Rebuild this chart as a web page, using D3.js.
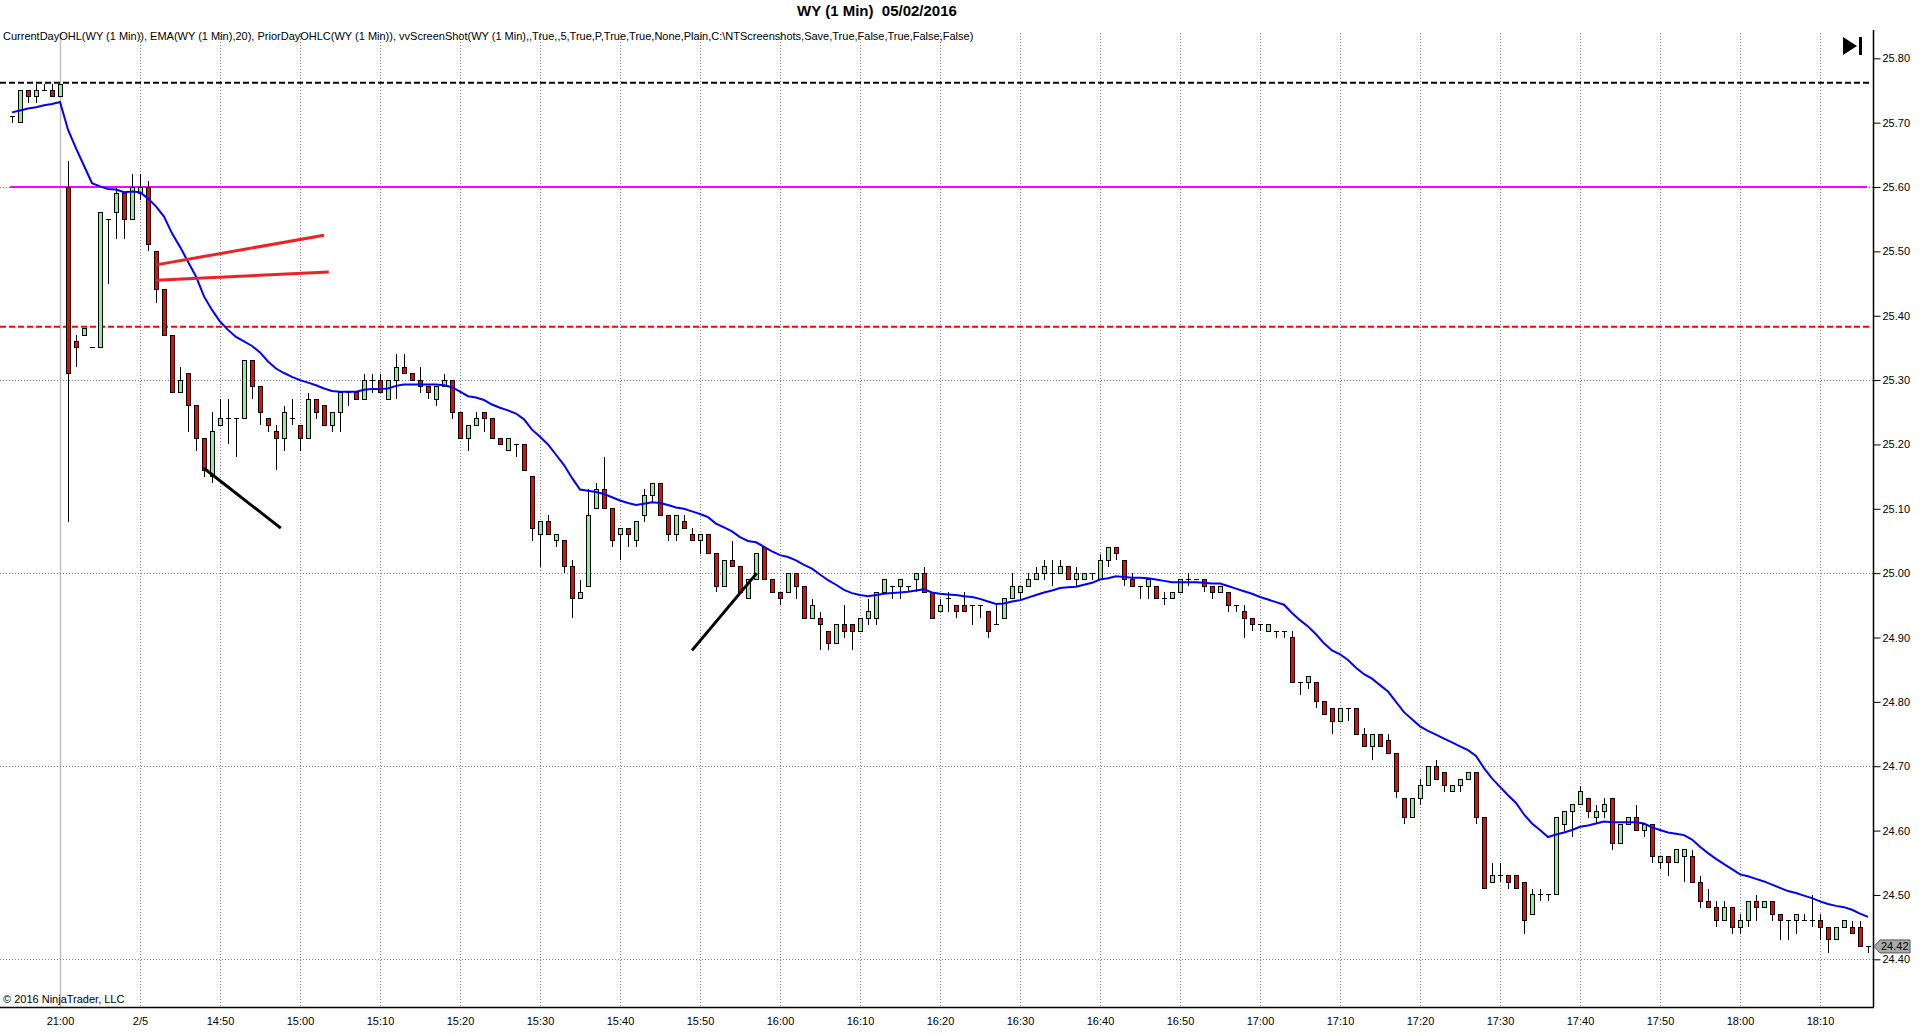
<!DOCTYPE html>
<html>
<head>
<meta charset="utf-8">
<script src="https://cdn.jsdelivr.net/npm/d3@7"></script>
<style>
  html, body { margin: 0; padding: 0; background: #fff; }
  svg { display: block; font-family: "Liberation Sans", Arial, sans-serif; }
</style>
</head>
<body>
<div id="chart"></div>
<script>
// WY 1 minute bars, index 0 = 2/4 20:54 ... index 232 = 2/5 18:16
var opens = [
  25.71,25.70,25.75,25.74,25.75,25.75,25.74,25.60,25.36,25.37,
  25.35,25.35,25.55,25.56,25.59,25.55,25.59,25.60,25.50,25.44,
  25.37,25.28,25.31,25.26,25.21,25.15,25.23,25.24,25.24,25.24,
  25.33,25.29,25.24,25.22,25.21,25.24,25.23,25.21,25.27,25.26,
  25.23,25.25,25.28,25.28,25.27,25.30,25.30,25.27,25.30,25.32,
  25.31,25.30,25.29,25.27,25.29,25.30,25.25,25.21,25.23,25.25,
  25.24,25.21,25.19,25.20,25.20,25.15,25.06,25.08,25.05,25.05,
  25.01,24.96,24.98,25.10,25.13,25.10,25.06,25.07,25.05,25.09,
  25.12,25.14,25.09,25.06,25.08,25.06,25.05,25.06,25.03,24.98,
  25.02,25.01,24.96,24.99,25.04,24.99,24.97,24.97,25.00,24.98,
  24.93,24.93,24.91,24.89,24.92,24.92,24.91,24.93,24.93,24.97,
  24.98,24.98,24.98,24.99,25.00,24.97,24.94,24.96,24.95,24.95,
  24.95,24.95,24.94,24.92,24.93,24.96,24.97,24.98,24.99,25.00,
  25.00,25.00,25.01,24.99,24.99,25.00,24.99,25.02,25.04,25.02,
  24.99,24.98,24.98,24.98,24.96,24.96,24.97,24.99,24.99,24.99,
  24.98,24.97,24.97,24.95,24.94,24.93,24.92,24.91,24.91,24.91,
  24.90,24.83,24.83,24.83,24.80,24.79,24.77,24.79,24.79,24.75,
  24.73,24.75,24.74,24.72,24.65,24.62,24.65,24.67,24.70,24.69,
  24.66,24.67,24.68,24.69,24.62,24.52,24.53,24.53,24.53,24.52,
  24.47,24.50,24.50,24.50,24.61,24.63,24.64,24.65,24.62,24.63,
  24.65,24.58,24.61,24.62,24.60,24.61,24.55,24.56,24.55,24.56,
  24.56,24.52,24.49,24.48,24.46,24.48,24.45,24.46,24.49,24.48,
  24.49,24.47,24.46,24.46,24.46,24.46,24.46,24.45,24.43,24.45,
  24.45,24.45,24.42
];
var highs = [
  25.71,25.75,25.75,25.76,25.76,25.76,25.76,25.64,25.37,25.38,
  25.35,25.56,25.55,25.60,25.59,25.62,25.62,25.61,25.50,25.44,
  25.37,25.32,25.31,25.26,25.21,25.25,25.27,25.27,25.24,25.33,
  25.33,25.29,25.24,25.23,25.26,25.27,25.23,25.28,25.27,25.26,
  25.25,25.28,25.28,25.28,25.31,25.31,25.31,25.30,25.34,25.34,
  25.31,25.32,25.29,25.29,25.31,25.30,25.25,25.23,25.25,25.25,
  25.24,25.21,25.21,25.20,25.20,25.15,25.08,25.09,25.06,25.05,
  25.02,24.99,25.13,25.14,25.18,25.10,25.07,25.07,25.08,25.13,
  25.14,25.14,25.09,25.09,25.09,25.07,25.06,25.06,25.03,25.02,
  25.05,25.01,24.99,25.03,25.04,24.99,24.97,25.00,25.00,24.98,
  24.96,24.94,24.91,24.92,24.95,24.92,24.93,24.96,24.97,24.99,
  24.98,24.99,24.98,25.00,25.01,24.97,24.96,24.97,24.95,24.97,
  24.95,24.95,24.94,24.95,24.96,25.00,24.98,25.00,25.01,25.02,
  25.02,25.02,25.01,25.01,25.00,25.00,25.03,25.04,25.04,25.02,
  25.00,24.98,24.99,24.98,24.97,24.97,24.99,25.00,24.99,24.99,
  24.98,24.98,24.97,24.95,24.95,24.93,24.92,24.92,24.91,24.91,
  24.91,24.83,24.84,24.83,24.80,24.79,24.79,24.79,24.79,24.76,
  24.75,24.75,24.75,24.72,24.65,24.65,24.68,24.70,24.71,24.69,
  24.67,24.68,24.69,24.69,24.62,24.55,24.55,24.53,24.53,24.52,
  24.51,24.51,24.50,24.62,24.63,24.64,24.67,24.65,24.64,24.65,
  24.65,24.61,24.62,24.64,24.61,24.61,24.56,24.56,24.57,24.57,
  24.57,24.53,24.51,24.49,24.49,24.48,24.47,24.49,24.50,24.49,
  24.49,24.47,24.46,24.47,24.47,24.50,24.47,24.45,24.45,24.46,
  24.46,24.46,24.42
];
var lows = [
  25.70,25.70,25.73,25.73,25.75,25.74,25.74,25.08,25.32,25.37,
  25.35,25.35,25.45,25.52,25.52,25.55,25.58,25.50,25.42,25.37,
  25.28,25.28,25.22,25.19,25.15,25.14,25.23,25.20,25.18,25.24,
  25.27,25.23,25.22,25.16,25.19,25.23,25.19,25.21,25.24,25.23,
  25.22,25.22,25.26,25.27,25.27,25.28,25.28,25.27,25.27,25.31,
  25.30,25.28,25.27,25.26,25.29,25.24,25.21,25.19,25.23,25.22,
  25.21,25.20,25.19,25.18,25.16,25.05,25.01,25.06,25.04,25.00,
  24.93,24.96,24.98,25.10,25.10,25.04,25.02,25.04,25.04,25.08,
  25.11,25.09,25.05,25.05,25.07,25.05,25.03,25.03,24.97,24.98,
  25.01,24.97,24.96,24.99,24.99,24.97,24.95,24.97,24.96,24.93,
  24.93,24.88,24.88,24.89,24.90,24.88,24.91,24.92,24.92,24.97,
  24.96,24.96,24.97,24.97,24.97,24.93,24.94,24.94,24.93,24.94,
  24.92,24.93,24.90,24.92,24.93,24.96,24.96,24.98,24.99,24.99,
  24.98,25.00,24.99,24.98,24.99,24.99,24.99,25.01,25.02,24.98,
  24.98,24.96,24.96,24.96,24.95,24.96,24.97,24.98,24.99,24.97,
  24.96,24.97,24.94,24.94,24.90,24.91,24.91,24.91,24.90,24.90,
  24.83,24.81,24.82,24.79,24.78,24.75,24.77,24.77,24.75,24.73,
  24.71,24.73,24.72,24.65,24.61,24.62,24.64,24.67,24.68,24.66,
  24.66,24.66,24.68,24.61,24.51,24.52,24.52,24.51,24.51,24.44,
  24.47,24.49,24.49,24.50,24.60,24.59,24.64,24.62,24.61,24.62,
  24.57,24.58,24.61,24.60,24.59,24.55,24.54,24.53,24.55,24.52,
  24.52,24.48,24.48,24.45,24.46,24.44,24.44,24.45,24.46,24.48,
  24.46,24.43,24.43,24.44,24.46,24.45,24.43,24.41,24.43,24.45,
  24.44,24.42,24.41
];
var closes = [
  25.71,25.75,25.74,25.75,25.75,25.74,25.76,25.31,25.35,25.38,
  25.35,25.56,25.55,25.59,25.55,25.60,25.60,25.51,25.44,25.37,
  25.28,25.30,25.26,25.21,25.16,25.22,25.24,25.24,25.24,25.33,
  25.29,25.25,25.23,25.21,25.25,25.24,25.21,25.27,25.25,25.23,
  25.25,25.28,25.28,25.27,25.30,25.30,25.28,25.30,25.32,25.31,
  25.30,25.29,25.28,25.29,25.30,25.25,25.21,25.23,25.24,25.24,
  25.21,25.20,25.21,25.20,25.16,25.07,25.08,25.06,25.06,25.01,
  24.96,24.97,25.09,25.13,25.10,25.05,25.07,25.06,25.08,25.12,
  25.14,25.09,25.06,25.09,25.07,25.05,25.06,25.03,24.98,25.02,
  25.01,24.97,24.99,25.03,24.99,24.97,24.96,25.00,24.98,24.93,
  24.95,24.92,24.89,24.92,24.91,24.91,24.93,24.94,24.97,24.99,
  24.98,24.99,24.98,25.00,24.97,24.93,24.95,24.96,24.94,24.94,
  24.95,24.95,24.91,24.92,24.96,24.98,24.98,24.99,25.00,25.01,
  25.00,25.01,24.99,25.00,25.00,25.00,25.02,25.04,25.03,24.99,
  24.98,24.98,24.99,24.96,24.96,24.97,24.99,24.99,24.99,24.98,
  24.97,24.98,24.95,24.95,24.93,24.92,24.92,24.92,24.91,24.91,
  24.83,24.83,24.84,24.80,24.78,24.77,24.79,24.79,24.75,24.73,
  24.75,24.73,24.72,24.66,24.62,24.65,24.67,24.70,24.68,24.67,
  24.67,24.68,24.69,24.62,24.51,24.53,24.53,24.52,24.51,24.46,
  24.50,24.50,24.50,24.62,24.63,24.64,24.66,24.63,24.63,24.64,
  24.58,24.61,24.62,24.60,24.61,24.56,24.56,24.55,24.57,24.57,
  24.52,24.49,24.48,24.46,24.48,24.45,24.46,24.49,24.48,24.49,
  24.47,24.46,24.46,24.47,24.46,24.46,24.45,24.43,24.45,24.46,
  24.44,24.42,24.42
];
// EMA(20) as plotted
var emaValues = [
  25.716,25.719,25.722,25.724,25.727,25.729,25.732,25.689,25.660,25.633,
  25.606,25.601,25.597,25.596,25.592,25.593,25.592,25.582,25.570,25.554,
  25.528,25.507,25.484,25.461,25.430,25.409,25.391,25.378,25.367,25.360,
  25.353,25.343,25.329,25.318,25.311,25.305,25.300,25.296,25.292,25.287,
  25.283,25.282,25.282,25.282,25.285,25.286,25.286,25.287,25.291,25.293,
  25.293,25.293,25.293,25.293,25.292,25.289,25.282,25.275,25.273,25.269,
  25.262,25.257,25.253,25.248,25.239,25.223,25.212,25.200,25.184,25.168,
  25.148,25.130,25.128,25.126,25.123,25.118,25.113,25.109,25.106,25.108,
  25.110,25.109,25.106,25.102,25.100,25.096,25.092,25.087,25.077,25.071,
  25.065,25.056,25.050,25.048,25.041,25.034,25.028,25.025,25.020,25.013,
  25.007,24.998,24.989,24.982,24.974,24.969,24.966,24.964,24.966,24.968,
  24.969,24.970,24.971,24.973,24.975,24.970,24.968,24.967,24.966,24.964,
  24.963,24.960,24.956,24.952,24.953,24.956,24.958,24.962,24.966,24.970,
  24.973,24.977,24.978,24.979,24.982,24.985,24.990,24.992,24.995,24.994,
  24.993,24.993,24.992,24.990,24.988,24.986,24.986,24.986,24.986,24.985,
  24.984,24.984,24.980,24.976,24.972,24.968,24.963,24.959,24.955,24.951,
  24.938,24.927,24.917,24.905,24.891,24.880,24.874,24.865,24.853,24.843,
  24.836,24.826,24.816,24.800,24.784,24.773,24.762,24.755,24.749,24.743,
  24.737,24.731,24.725,24.716,24.697,24.681,24.668,24.655,24.643,24.625,
  24.611,24.601,24.590,24.594,24.597,24.601,24.606,24.608,24.611,24.614,
  24.613,24.613,24.613,24.613,24.611,24.605,24.601,24.597,24.595,24.593,
  24.586,24.575,24.565,24.556,24.548,24.540,24.532,24.529,24.525,24.521,
  24.516,24.511,24.506,24.503,24.499,24.495,24.490,24.486,24.483,24.481,
  24.477,24.471,24.466
];

var timeLabels = ["21:00","2/5","14:50","15:00","15:10","15:20","15:30","15:40","15:50","16:00",
                  "16:10","16:20","16:30","16:40","16:50","17:00","17:10","17:20","17:30","17:40",
                  "17:50","18:00","18:10"];
var timeLabelBars = [6,16,26,36,46,56,66,76,86,96,106,116,126,136,146,156,166,176,186,196,206,216,226];
var sessionBreakBar = 6;
var priceTicks = [25.80,25.70,25.60,25.50,25.40,25.30,25.20,25.10,25.00,24.90,24.80,24.70,24.60,24.50,24.40];
var gridPrices = [25.60,25.30,25.00,24.70,24.40];

var priorDayClose = 25.762;
var priorDayLow = 25.383;
var currentDayOpen = 25.60;
var lastPrice = 24.42;

// hand drawn trend lines: [bar1, price1, bar2, price2]
var redLines = [[18, 25.479, 39, 25.525], [18, 25.455, 39.6, 25.468]];
var blackLines = [[24, 25.163, 33.6, 25.070], [85, 24.880, 93.1, 25.000]];

var title = "WY (1 Min)  05/02/2016";
var indicatorText = "CurrentDayOHL(WY (1 Min)), EMA(WY (1 Min),20), PriorDayOHLC(WY (1 Min)), vvScreenShot(WY (1 Min),,True,,5,True,P,True,True,None,Plain,C:\\NTScreenshots,Save,True,False,True,False,False)";
var copyright = "\u00a9 2016 NinjaTrader, LLC";

var W = 1920, H = 1034;
var plotLeft = 0, plotRight = 1873, plotTop = 33, plotBottom = 1007;

var svg = d3.select('#chart').append('svg')
    .attr('width', W)
    .attr('height', H)
    .style('background', '#fff');

var x = d3.scaleLinear().domain([0, 232]).range([12, 1868]);
var y = d3.scaleLinear().domain([24.40, 25.80]).range([959.3, 58.3]);

// grid
svg.append('g').selectAll('line').data(timeLabelBars)
    .enter().append('line')
    .attr('x1', function (d) { return Math.round(x(d)) + 0.5; })
    .attr('x2', function (d) { return Math.round(x(d)) + 0.5; })
    .attr('y1', plotTop)
    .attr('y2', plotBottom)
    .attr('stroke', function (d) { return d === sessionBreakBar ? '#c0c0c0' : '#808080'; })
    .attr('stroke-width', function (d) { return d === sessionBreakBar ? 1.5 : 1; })
    .attr('stroke-dasharray', function (d) { return d === sessionBreakBar ? null : '1,2'; });

svg.append('g').selectAll('line').data(gridPrices)
    .enter().append('line')
    .attr('x1', plotLeft)
    .attr('x2', plotRight)
    .attr('y1', function (d) { return Math.round(y(d)) + 0.5; })
    .attr('y2', function (d) { return Math.round(y(d)) + 0.5; })
    .attr('stroke', '#808080')
    .attr('stroke-dasharray', '1,2');

// prior day / current day levels
svg.append('line')
    .attr('x1', 0).attr('x2', 1871)
    .attr('y1', y(priorDayClose)).attr('y2', y(priorDayClose))
    .attr('stroke', '#000').attr('stroke-width', 2).attr('stroke-dasharray', '6,3');
svg.append('line')
    .attr('x1', 0).attr('x2', 1871)
    .attr('y1', y(priorDayLow)).attr('y2', y(priorDayLow))
    .attr('stroke', '#ff0000').attr('stroke-width', 2).attr('stroke-dasharray', '6,3');
svg.append('line')
    .attr('x1', 10).attr('x2', 1867)
    .attr('y1', y(currentDayOpen)).attr('y2', y(currentDayOpen))
    .attr('stroke', '#ff00ff').attr('stroke-width', 2);

// candles
var bars = d3.range(opens.length).map(function (i) {
    return {i: i, o: opens[i], h: highs[i], l: lows[i], c: closes[i]};
});
var candles = svg.append('g').attr('shape-rendering', 'crispEdges');
candles.selectAll('line.wick').data(bars)
    .enter().append('line')
    .attr('class', 'wick')
    .attr('x1', function (d) { return x(d.i) + 0.5; })
    .attr('x2', function (d) { return x(d.i) + 0.5; })
    .attr('y1', function (d) { return y(d.h); })
    .attr('y2', function (d) { return y(d.l); })
    .attr('stroke', '#000');
candles.selectAll('rect').data(bars.filter(function (d) { return Math.abs(d.o - d.c) > 0.001; }))
    .enter().append('rect')
    .attr('x', function (d) { return x(d.i) - 1.5; })
    .attr('width', 4)
    .attr('y', function (d) { return y(Math.max(d.o, d.c)); })
    .attr('height', function (d) { return Math.abs(y(d.o) - y(d.c)); })
    .attr('fill', function (d) { return d.c > d.o ? '#90ee90' : '#ff0000'; })
    .attr('stroke', '#000');
candles.selectAll('line.doji').data(bars.filter(function (d) { return Math.abs(d.o - d.c) <= 0.001; }))
    .enter().append('line')
    .attr('class', 'doji')
    .attr('x1', function (d) { return x(d.i) - 2; })
    .attr('x2', function (d) { return x(d.i) + 3; })
    .attr('y1', function (d) { return y(d.c); })
    .attr('y2', function (d) { return y(d.c); })
    .attr('stroke', '#000');

// EMA
svg.append('path')
    .datum(emaValues)
    .attr('fill', 'none')
    .attr('stroke', '#0000ff')
    .attr('stroke-width', 2)
    .attr('d', d3.line().x(function (d, i) { return x(i); }).y(function (d) { return y(d); }));

// drawing objects
svg.append('g').selectAll('line').data(redLines)
    .enter().append('line')
    .attr('x1', function (d) { return x(d[0]); })
    .attr('y1', function (d) { return y(d[1]); })
    .attr('x2', function (d) { return x(d[2]); })
    .attr('y2', function (d) { return y(d[3]); })
    .attr('stroke', '#ee2222').attr('stroke-width', 3);
svg.append('g').selectAll('line').data(blackLines)
    .enter().append('line')
    .attr('x1', function (d) { return x(d[0]); })
    .attr('y1', function (d) { return y(d[1]); })
    .attr('x2', function (d) { return x(d[2]); })
    .attr('y2', function (d) { return y(d[3]); })
    .attr('stroke', '#000').attr('stroke-width', 3);

// axes
var yAxis = d3.axisRight(y).tickValues(priceTicks).tickSize(7).tickPadding(2).tickFormat(d3.format('.2f'));
var yg = svg.append('g')
    .attr('transform', 'translate(' + (plotRight + 0.5) + ',0)')
    .call(yAxis);
yg.select('.domain').remove();
yg.selectAll('text').attr('font-size', 11).attr('fill', '#000').attr('font-family', '"Liberation Sans", Arial, sans-serif');
svg.append('line')
    .attr('x1', plotRight + 0.5).attr('x2', plotRight + 0.5)
    .attr('y1', 30).attr('y2', plotBottom)
    .attr('stroke', '#000').attr('stroke-width', 1.5);

var xAxis = d3.axisBottom(x).tickValues(timeLabelBars).tickSize(0).tickPadding(10)
    .tickFormat(function (d, i) { return timeLabels[i]; });
var xg = svg.append('g')
    .attr('transform', 'translate(0,' + plotBottom + ')')
    .call(xAxis);
xg.select('.domain').remove();
xg.selectAll('text').attr('font-size', 11).attr('fill', '#000').attr('font-family', '"Liberation Sans", Arial, sans-serif');
svg.append('line')
    .attr('x1', 0).attr('x2', plotRight + 1)
    .attr('y1', plotBottom + 0.5).attr('y2', plotBottom + 0.5)
    .attr('stroke', '#000').attr('stroke-width', 1.5);

// last price marker
var ly = y(lastPrice);
svg.append('path')
    .attr('d', 'M' + (plotRight + 1) + ',' + ly + ' L' + (plotRight + 7) + ',' + (ly - 6.5) +
               ' L1910,' + (ly - 6.5) + ' L1910,' + (ly + 6.5) + ' L' + (plotRight + 7) + ',' + (ly + 6.5) + ' Z')
    .attr('fill', '#a9a9a9').attr('stroke', '#555');
svg.append('text')
    .attr('x', 1881).attr('y', ly + 4)
    .attr('font-size', 11)
    .text(lastPrice.toFixed(2));

// texts
svg.append('text')
    .attr('x', 877).attr('y', 16)
    .attr('text-anchor', 'middle')
    .attr('font-size', 15).attr('font-weight', 'bold')
    .style('white-space', 'pre')
    .text(title);
svg.append('text')
    .attr('x', 3).attr('y', 40)
    .attr('font-size', 11)
    .text(indicatorText);
svg.append('text')
    .attr('x', 3).attr('y', 1003)
    .attr('font-size', 11)
    .text(copyright);

// scroll-to-end button
svg.append('path').attr('d', 'M1843,37 L1857,46 L1843,55 Z').attr('fill', '#000');
svg.append('rect').attr('x', 1859).attr('y', 37).attr('width', 3).attr('height', 18).attr('fill', '#000');
</script>
</body>
</html>
